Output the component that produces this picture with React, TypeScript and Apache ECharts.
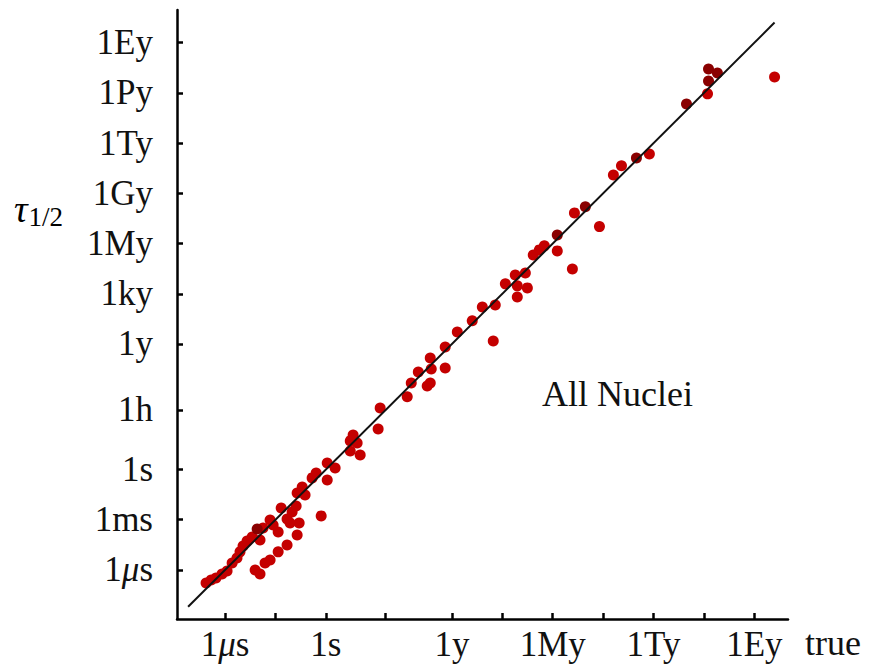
import React, { useEffect, useRef } from "react";
import * as echarts from "echarts";

// log10 of half-life in seconds
const tickValues = [-6, -3, 0, 3.5563, 7.4991, 10.4991, 13.4991, 16.4991, 19.4991, 22.4991, 25.4991];
const tickNames = ["1μs", "1ms", "1s", "1h", "1y", "1ky", "1My", "1Gy", "1Ty", "1Py", "1Ey"];
const xLabelValues = [-6, 0, 7.4991, 13.4991, 19.4991, 25.4991];

// [true log10 τ, predicted log10 τ]
const redPoints: [number, number][] = [
  [-7.13, -6.78], [-6.83, -6.6], [-6.54, -6.48], [-6.18, -6.24], [-5.88, -6.06],
  [-5.58, -5.58], [-5.29, -5.28], [-5.11, -4.92], [-4.93, -4.57], [-4.69, -4.27],
  [-4.39, -4.03], [-3.92, -4.21], [-3.74, -3.49], [-3.32, -3.01], [-3.14, -3.31],
  [-2.66, -2.3], [-2.84, -3.73], [-2.31, -2.95], [-2.01, -2.54], [-2.13, -3.19],
  [-1.59, -3.19], [-1.71, -3.91], [-2.31, -4.51], [-2.84, -4.92], [-3.32, -5.4],
  [-3.62, -5.58], [-4.21, -6.0], [-3.92, -6.24], [-1.71, -1.4], [-1.41, -1.04],
  [-1.24, -1.52], [-0.28, -2.77], [-1.77, -2.18], [-0.82, -0.5], [-0.58, -0.21],
  [0.08, -0.62], [0.08, 0.39], [0.55, 0.09], [1.62, 2.06], [1.45, 1.71],
  [1.86, 1.59], [1.45, 1.11], [2.04, 0.87], [3.11, 2.42], [3.23, 3.68],
  [4.84, 4.34], [5.08, 5.17], [6.03, 4.99], [6.21, 5.17], [5.5, 5.83],
  [6.21, 6.66], [6.27, 6.01], [7.1, 6.07], [7.1, 7.32], [7.82, 8.22],
  [8.71, 8.88], [9.31, 9.71], [10.08, 9.83], [9.96, 7.68], [10.68, 11.09],
  [11.27, 11.62], [11.87, 11.74], [11.39, 10.97], [11.99, 10.85], [11.39, 10.31],
  [12.34, 12.82], [12.7, 13.12], [13.0, 13.36], [13.77, 13.06], [14.67, 11.98],
  [14.79, 15.33], [16.28, 14.51], [17.11, 17.6], [17.59, 18.14], [19.25, 18.85],
  [22.71, 22.44], [26.7, 23.45],
];

const darkPoints: [number, number][] = [
  [-4.09, -3.55], [13.77, 14.01], [15.44, 15.69], [18.48, 18.61],
  [21.46, 21.84], [22.77, 23.93], [23.3, 23.69], [22.77, 23.21],
];

const diagLine: [number, number][] = [[-8.2, -8.2], [26.7, 26.7]];

const FONT = "'Liberation Serif', 'Times New Roman', serif";

function labelFor(v: number): string {
  let best = 0;
  for (let i = 0; i < tickValues.length; i++) {
    if (Math.abs(tickValues[i] - v) < Math.abs(tickValues[best] - v)) best = i;
  }
  const name = tickNames[best];
  if (name.includes("μ")) return "{n|1}{mu|μ}{n|s}";
  return "{n|" + name + "}";
}

const richLabel = {
  n: { fontFamily: FONT, fontSize: 35, color: "#111" },
  mu: { fontFamily: FONT, fontSize: 35, fontStyle: "italic", color: "#111" },
};

export default function App() {
  const ref = useRef<HTMLDivElement>(null);
  useEffect(() => {
    if (!ref.current) return;
    const chart = echarts.init(ref.current, undefined, { renderer: "svg" });
    const axisCommon = {
      type: "value" as const,
      splitLine: { show: false },
      axisLine: { show: true, onZero: false, lineStyle: { color: "#000", width: 2.5 } },
      axisTick: { show: true, inside: true, length: 6, customValues: tickValues, lineStyle: { color: "#000", width: 2.5 } },
    };
    chart.setOption({
      animation: false,
      backgroundColor: "#fff",
      grid: { left: 177, right: 86, top: 10, bottom: 45, containLabel: false },
      xAxis: {
        ...axisCommon,
        min: -8.86,
        max: 27.5,
        axisLabel: {
          customValues: xLabelValues,
          margin: 8,
          verticalAlign: "top",
          formatter: (v: number) => labelFor(v),
          rich: richLabel,
        },
      },
      yAxis: {
        ...axisCommon,
        min: -8.93,
        max: 27.45,
        axisLabel: {
          customValues: tickValues,
          margin: 24,
          formatter: (v: number) => labelFor(v),
          rich: richLabel,
        },
      },
      graphic: [
        {
          type: "text",
          left: 14,
          top: 190,
          style: {
            text: "{t|τ}{s|1/2}",
            rich: {
              t: { fontFamily: FONT, fontSize: 38, fontStyle: "italic", color: "#1a1a3a" },
              s: { fontFamily: FONT, fontSize: 27, color: "#1a1a3a", padding: [16, 0, 0, 1] },
            },
          },
        },
        {
          type: "text",
          x: 542,
          y: 394,
          style: { text: "All Nuclei", fontFamily: FONT, fontSize: 36, fill: "#111", verticalAlign: "middle" },
        },
        {
          type: "text",
          x: 805,
          y: 643,
          style: { text: "true", fontFamily: FONT, fontSize: 36, fill: "#111", verticalAlign: "middle" },
        },
      ],
      series: [
        {
          type: "scatter",
          data: redPoints,
          symbolSize: 11,
          itemStyle: { color: "#c40000", opacity: 1 },
          z: 2,
        },
        {
          type: "scatter",
          data: darkPoints,
          symbolSize: 11,
          itemStyle: { color: "#8a0000", opacity: 1 },
          z: 2,
        },
        {
          type: "line",
          data: diagLine,
          showSymbol: false,
          symbol: "none",
          lineStyle: { color: "#111", width: 2 },
          z: 3,
        },
      ],
    });
    return () => chart.dispose();
  }, []);
  return <div ref={ref} style={{ position: "fixed", left: 0, top: 0, width: 874, height: 664 }} />;
}
